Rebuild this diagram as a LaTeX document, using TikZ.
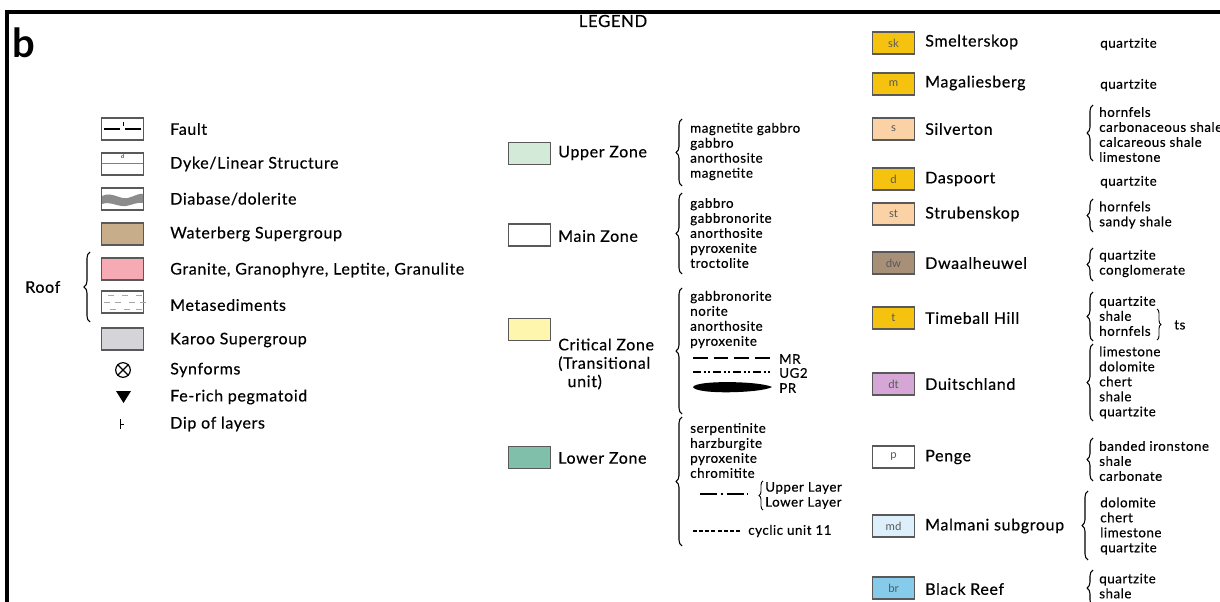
\documentclass[tikz,border=0pt]{standalone}
\usepackage{fontspec}
\setmainfont{Lato}[LetterSpace=4,FakeBold=0.4]
\newfontfamily\plainlato{Lato}
\usetikzlibrary{decorations.pathreplacing,calc}
\definecolor{cgold}{HTML}{F5C30F}
\definecolor{cpeach}{HTML}{FAD2A6}
\definecolor{cdw}{HTML}{A89078}
\definecolor{cdt}{HTML}{D5A6D6}
\definecolor{cmd}{HTML}{DDEFFA}
\definecolor{cbr}{HTML}{86CBEA}
\definecolor{cwat}{HTML}{C7AD8A}
\definecolor{cgran}{HTML}{F6AAB3}
\definecolor{ckar}{HTML}{D4D4D9}
\definecolor{cup}{HTML}{D3EAD8}
\definecolor{ccrit}{HTML}{FFF6AE}
\definecolor{clow}{HTML}{80BFA9}
\begin{document}
\begin{tikzpicture}[x=0.75pt,y=-0.75pt,
  swatch/.style={draw=black!65, line width=0.9pt, minimum width=32pt, minimum height=16.5pt, inner sep=0pt, font=\plainlato\fontsize{8.5}{9}\selectfont, text=black!65},
  lbl/.style={anchor=west, inner sep=0pt, font=\fontsize{12}{13}\selectfont},
  item/.style={anchor=west, inner sep=0pt, align=left, font=\fontsize{10}{11.25}\selectfont},
  brc/.style={decorate, decoration={brace, amplitude=4.5pt}, line width=0.8pt},
  sbrc/.style={decorate, decoration={brace, amplitude=3pt}, line width=0.7pt}]
\useasboundingbox (0,0) rectangle (1220,602);
\clip (0,0) rectangle (1220,602);
% frame
\draw[line width=3pt] (7,602) -- (7,12) -- (1222,12);
\node[font=\plainlato\bfseries\fontsize{30}{32}\selectfont, inner sep=0pt] (b) at (24,43) {b};
\node[font=\fontsize{12.5}{13}\selectfont, inner sep=0pt] (legend) at (613,21) {LEGEND};

% ---------- left column ----------
\node[swatch] (fault) at (122.5,129) {};
\draw[line width=0.8pt] (fault.west) ++(3,0) -- ++(16,0) (fault.east) ++(-3,0) -- ++(-16,0);
\draw[line width=0.5pt] (123,122) -- (123,126);
\node[lbl] (tfault) at (170,129) {Fault};

\node[swatch] (dyke) at (122.5,164) {};
\draw[line width=0.4pt, black!50] (102,163) -- (143,163);
\node[font=\plainlato\fontsize{4}{4}\selectfont, inner sep=0pt] (dd) at (122.5,157) {d};
\node[lbl] (tdyke) at (170,164) {Dyke/Linear Structure};

\node[swatch] (diab) at (122.5,199) {};
\fill[black!45] (102,196) .. controls (112,191) and (120,200) .. (128,198) .. controls (135,196) and (139,193) .. (143,194) -- (143,203) .. controls (137,202) and (132,205) .. (126,206) .. controls (118,207) and (110,201) .. (102,204) -- cycle;
\node[lbl] (tdiab) at (170,199) {Diabase/dolerite};

\node[swatch, fill=cwat] (wat) at (122.5,234) {};
\node[lbl] (twat) at (170,234) {Waterberg Supergroup};

\node[swatch, fill=cgran] (gran) at (122.5,269) {};
\node[lbl] (tgran) at (170,270) {Granite, Granophyre, Leptite, Granulite};

\node[swatch] (meta) at (122.5,302) {};
\foreach \xx/\yy in {108/295,122/295,136/295,104/302,115/302,129/302,140/302,110/309,124/309,136/309}
  \draw[black!35, line width=0.5pt] (\xx,\yy) -- ++(6,0);
\node[lbl] (tmeta) at (170,305) {Metasediments};

\node[swatch, fill=ckar] (kar) at (122.5,339) {};
\node[lbl] (tkar) at (170,340) {Karoo Supergroup};

\node[draw, circle, line width=0.9pt, minimum size=11pt, inner sep=0pt] (syn) at (123,370) {};
\draw[line width=0.9pt] (syn.north west) -- (syn.south east) (syn.north east) -- (syn.south west);
\node[lbl] (tsyn) at (170,370) {Synforms};

\fill (116,391) -- (131,391) -- (123.5,403) -- cycle;
\coordinate (peg) at (123.5,397);
\node[lbl] (tpeg) at (170,397) {Fe-rich pegmatoid};

\draw[line width=0.6pt] (120,419) -- (120,429) (120,424) -- (124,424);
\coordinate (dip) at (121,424);
\node[lbl] (tdip) at (170,424) {Dip of layers};

\node[lbl] (roof) at (25,287) {Roof};
\draw[brc] (90,322) -- (90,252);

% ---------- middle column ----------
\node[swatch, fill=cup] (upper) at (529.5,153.5) {};
\node[lbl] (tupper) at (558,153) {Upper Zone};
\draw[brc] (682,186) -- (682,119);
\node[item] (iupper) at (690,151.5) {magnetite gabbro\\gabbro\\anorthosite\\magnetite};

\node[swatch] (main) at (529.5,235) {};
\node[lbl] (tmain) at (558,236) {Main Zone};
\draw[brc] (682,274) -- (682,193);
\node[item] (imain) at (690,233) {gabbro\\gabbronorite\\anorthosite\\pyroxenite\\troctolite};

\node[swatch, fill=ccrit] (crit) at (529.5,329.5) {};
\node[lbl, align=left, font=\fontsize{12}{13.8}\selectfont] (tcrit) at (558,364) {Critical Zone\\(Transitional\\\hspace*{7pt}unit)};
\draw[brc] (682,414) -- (682,288);
\node[item] (icrit) at (690,319.5) {gabbronorite\\norite\\anorthosite\\pyroxenite};
\coordinate (mr0) at (693,358); \coordinate (mr1) at (771,358);
\draw[line width=1.6pt, dash pattern=on 11pt off 4.5pt] (mr0) -- (mr1);
\node[item] (tmr) at (779,359) {MR};
\coordinate (ug0) at (693,372); \coordinate (ug1) at (771,372);
\draw[line width=1.3pt, dash pattern=on 6pt off 2pt on 1.5pt off 2pt on 1.5pt off 2pt] (ug0) -- (ug1);
\node[item] (tug) at (779,373) {UG2};
\coordinate (pr0) at (693,387); \coordinate (pr1) at (772,387);
\fill (pr0) .. controls (696,380) and (760,381) .. (pr1) .. controls (762,393) and (696,395) .. (pr0) -- cycle;
\node[item] (tpr) at (779,388) {PR};

\node[swatch, fill=clow] (lower) at (529.5,457.5) {};
\node[lbl] (tlower) at (558,458) {Lower Zone};
\draw[brc] (682,546) -- (682,417);
\node[item] (ilower) at (690,450.5) {serpentinite\\harzburgite\\pyroxenite\\chromitite};
\coordinate (ly0) at (700,494); \coordinate (ly1) at (748,494);
\draw[line width=1.1pt, dash pattern=on 13pt off 2.5pt on 2pt off 2.5pt] (ly0) -- (ly1);
\draw[sbrc] (763,510) -- (763,481);
\node[item] (ilayer) at (765,495.5) {Upper Layer\\Lower Layer};
\coordinate (cy0) at (693,531); \coordinate (cy1) at (741,531);
\draw[line width=1.3pt, dash pattern=on 3pt off 1.6pt] (cy0) -- (cy1);
\node[item] (tcy) at (748,531) {cyclic unit 11};

% ---------- right column ----------
\node[swatch, fill=cgold] (sk) at (893.5,43) {sk};
\node[lbl] (tsk) at (925,42) {Smelterskop};
\node[item] (isk) at (1100,44) {quartzite};

\node[swatch, fill=cgold] (m) at (893.5,84) {m};
\node[lbl] (tm) at (925,83) {Magaliesberg};
\node[item] (im) at (1100,85) {quartzite};

\node[swatch, fill=cpeach] (s) at (893.5,129) {s};
\node[lbl] (ts) at (925,129) {Silverton};
\draw[brc] (1093,161) -- (1093,105);
\node[item] (is) at (1099,134.5) {hornfels\\carbonaceous shale\\calcareous shale\\limestone};

\node[swatch, fill=cgold] (d) at (893.5,179) {d};
\node[lbl] (td) at (925,179) {Daspoort};
\node[item] (id) at (1100,182) {quartzite};

\node[swatch, fill=cpeach] (st) at (893.5,214) {st};
\node[lbl] (tst) at (925,214) {Strubenskop};
\draw[brc] (1093,232) -- (1093,199);
\node[item] (ist) at (1099,215) {hornfels\\sandy shale};

\node[swatch, fill=cdw] (dw) at (893.5,263) {dw};
\node[lbl] (tdw) at (925,263) {Dwaalheuwel};
\draw[brc] (1093,281) -- (1093,248);
\node[item] (idw) at (1099,263.5) {quartzite\\conglomerate};

\node[swatch, fill=cgold] (t) at (893.5,318) {t};
\node[lbl] (tt) at (925,318) {Timeball Hill};
\draw[brc] (1093,341) -- (1093,292);
\node[item] (it) at (1099,316) {quartzite\\shale\\hornfels};
\draw[sbrc] (1157,309) -- (1157,340);
\node[item] (its) at (1174,325) {ts};

\node[swatch, fill=cdt] (dt) at (893.5,384) {dt};
\node[lbl] (tdt) at (925,384) {Duitschland};
\draw[brc] (1093,421) -- (1093,344);
\node[item] (idt) at (1099,382.5) {limestone\\dolomite\\chert\\shale\\quartzite};

\node[swatch, fill=white] (p) at (893.5,457) {p};
\node[lbl] (tp) at (925,457) {Penge};
\draw[brc] (1093,481) -- (1093,438);
\node[item] (ip) at (1099,461) {banded ironstone\\shale\\carbonate};

\node[swatch, fill=cmd] (md) at (893.5,526) {md};
\node[lbl] (tmd) at (925,526) {Malmani subgroup};
\draw[brc] (1088,560) -- (1088,491);
\node[item] (imd) at (1100,526) {dolomite\\chert\\limestone\\quartzite};

\node[swatch, fill=cbr] (br) at (893.5,588) {br};
\node[lbl] (tbr) at (925,589) {Black Reef};
\draw[brc] (1093,606) -- (1093,570);
\node[item] (ibr) at (1099,586) {quartzite\\shale};
\end{tikzpicture}
\end{document}
